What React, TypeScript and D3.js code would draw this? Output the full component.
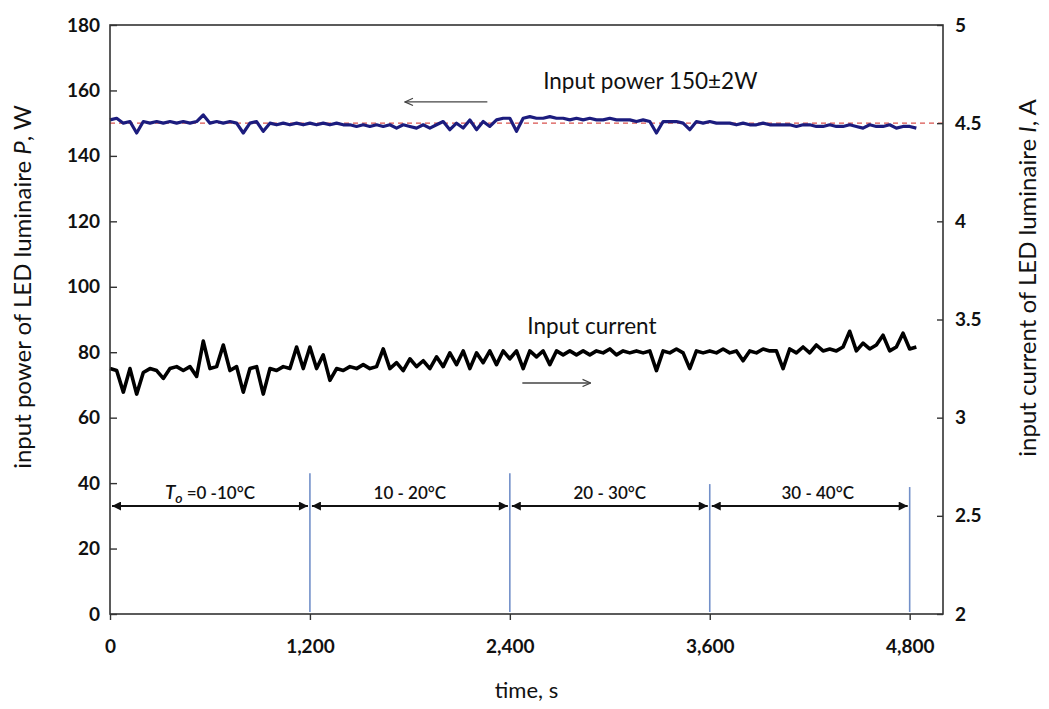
import React, { useEffect, useRef } from "react";
import * as d3 from "d3";

// logger sampled every 40 s, from t = 0
const startTime = 0;
const sampleStep = 40;

// input power of the luminaire, W (left axis)
const powerW = [
  151, 151.5, 150, 150.5, 147, 150.5, 150, 150.5, 150, 150.5,
  150, 150.5, 150, 150.5, 152.5, 150, 150.5, 150, 150.5, 150,
  147, 150, 150.5, 147.5, 150, 149.5, 150, 149.5, 150, 149.5,
  150, 149.5, 150, 149.5, 150, 149.5, 149.5, 149, 149.5, 149,
  149.5, 149, 149.5, 148.5, 149.5, 149, 148.5, 149.5, 148.5, 149.5,
  150.5, 148, 150, 148.5, 151, 148, 150.5, 149, 151, 151.5,
  151.5, 147.5, 151.5, 152, 151.5, 151.5, 152, 151.5, 151.5, 151,
  151.5, 151, 151.5, 151, 151, 151.5, 151, 151, 151, 150.5,
  151, 150.5, 147, 150.5, 150.5, 150.5, 150, 148, 150.5, 150,
  150.5, 150, 150, 150, 149.5, 150, 149.5, 149.5, 150, 149.5,
  149.5, 149.5, 149.5, 149, 149.5, 149.5, 149, 149, 149.5, 149,
  149, 149.5, 149, 148.5, 149.5, 149, 149, 149.5, 148.5, 149,
  149, 148.5,
];

// input current of the luminaire, A (right axis)
const currentA = [
  3.25, 3.24, 3.13, 3.25, 3.12, 3.23, 3.25, 3.24, 3.2, 3.25,
  3.26, 3.24, 3.26, 3.21, 3.39, 3.25, 3.26, 3.37, 3.24, 3.26,
  3.13, 3.25, 3.26, 3.12, 3.25, 3.24, 3.26, 3.25, 3.36, 3.25,
  3.36, 3.25, 3.32, 3.19, 3.25, 3.24, 3.26, 3.25, 3.27, 3.25,
  3.26, 3.35, 3.25, 3.28, 3.24, 3.3, 3.26, 3.29, 3.25, 3.31,
  3.26, 3.33, 3.27, 3.34, 3.25, 3.33, 3.28, 3.34, 3.27, 3.34,
  3.3, 3.34, 3.25, 3.34, 3.31, 3.34, 3.27, 3.34, 3.32, 3.34,
  3.32, 3.34, 3.32, 3.34, 3.33, 3.35, 3.32, 3.34, 3.33, 3.34,
  3.33, 3.34, 3.24, 3.34, 3.33, 3.35, 3.33, 3.25, 3.34, 3.33,
  3.34, 3.33, 3.35, 3.33, 3.34, 3.29, 3.34, 3.33, 3.35, 3.34,
  3.34, 3.25, 3.35, 3.33, 3.36, 3.33, 3.37, 3.34, 3.35, 3.34,
  3.36, 3.44, 3.34, 3.38, 3.35, 3.37, 3.42, 3.34, 3.36, 3.43,
  3.35, 3.36,
];

const nominalPower = 150;
const xTicks = [0, 1200, 2400, 3600, 4800];
const powerTicks = [0, 20, 40, 60, 80, 100, 120, 140, 160, 180];
const currentTicks = [2, 2.5, 3, 3.5, 4, 4.5, 5];

// ambient temperature stages
const stageBounds = [0, 1200, 2400, 3600, 4800];
const stageLabels = ["=0 -10°C", "10 - 20°C", "20 - 30°C", "30 - 40°C"];
const dividerTops = [43, 43, 39.7, 38.8]; // W, top of the blue divider at 1200..4800

const W = 1049;
const H = 709;
const margin = { top: 25, right: 106, bottom: 95, left: 110 };
const font = "Lato, 'Open Sans', sans-serif";

const App = () => {
  const svgRef = useRef<SVGSVGElement>(null);

  useEffect(() => {
    const root = d3.select(svgRef.current);
    root.selectAll("*").remove();

    const width = W - margin.left - margin.right;
    const height = H - margin.top - margin.bottom;

    const times = powerW.map((_, i) => startTime + i * sampleStep);

    const x = d3.scaleLinear().domain([0, 5000]).range([0, width]);
    const yP = d3.scaleLinear().domain([0, 180]).range([height, 0]);
    const yI = d3.scaleLinear().domain([2, 5]).range([height, 0]);

    const defs = root.append("defs");
    const mk = (id: string, path: string) =>
      defs
        .append("marker")
        .attr("id", id)
        .attr("viewBox", "0 0 10 10")
        .attr("refX", 10)
        .attr("refY", 5)
        .attr("markerWidth", 10)
        .attr("markerHeight", 9)
        .attr("markerUnits", "userSpaceOnUse")
        .attr("orient", "auto-start-reverse")
        .append("path")
        .attr("d", path);
    mk("tri", "M0,0 L10,5 L0,10 Z").attr("fill", "#111");
    mk("open", "M1,1 L10,5 L1,9").attr("fill", "none").attr("stroke", "#444").attr("stroke-width", 1.3);

    const g = root.append("g").attr("transform", `translate(${margin.left},${margin.top})`);

    // nominal power reference
    g.append("line")
      .attr("x1", 0)
      .attr("x2", width)
      .attr("y1", yP(nominalPower))
      .attr("y2", yP(nominalPower))
      .attr("stroke", "#d9534f")
      .attr("stroke-width", 1.4)
      .attr("stroke-dasharray", "5,4");

    const powerLine = d3
      .line<number>()
      .x((_, i) => x(times[i]))
      .y((d) => yP(d));
    g.append("path")
      .datum(powerW)
      .attr("d", powerLine)
      .attr("fill", "none")
      .attr("stroke", "#1c1c7e")
      .attr("stroke-width", 3.2)
      .attr("stroke-linejoin", "round");

    const currentLine = d3
      .line<number>()
      .x((_, i) => x(times[i]))
      .y((d) => yI(d));
    g.append("path")
      .datum(currentA)
      .attr("d", currentLine)
      .attr("fill", "none")
      .attr("stroke", "#000")
      .attr("stroke-width", 3.6)
      .attr("stroke-linejoin", "round");

    // stage dividers
    g.selectAll(".divider")
      .data(stageBounds.slice(1))
      .enter()
      .append("line")
      .attr("x1", (d) => x(d))
      .attr("x2", (d) => x(d))
      .attr("y1", (_, i) => yP(dividerTops[i]))
      .attr("y2", height - 2)
      .attr("stroke", "#7390c9")
      .attr("stroke-width", 1.6);

    // stage span arrows
    const spanY = yP(33);
    stageBounds.slice(1).forEach((b, i) => {
      const a = stageBounds[i];
      g.append("line")
        .attr("x1", x(a) + 2)
        .attr("x2", x(b) - 2)
        .attr("y1", spanY)
        .attr("y2", spanY)
        .attr("stroke", "#111")
        .attr("stroke-width", 1.8)
        .attr("marker-start", "url(#tri)")
        .attr("marker-end", "url(#tri)");
      const t = g
        .append("text")
        .attr("x", x((a + b) / 2) + (i === 3 ? 8 : 0))
        .attr("y", yP(35))
        .attr("text-anchor", "middle")
        .attr("font-family", font)
        .attr("font-size", 17)
        .attr("font-weight", 600)
        .attr("fill", "#111");
      if (i === 0) {
        t.append("tspan").attr("font-style", "italic").attr("font-size", 19).text("T");
        t.append("tspan").attr("font-style", "italic").attr("font-size", 14).attr("dy", 4).text("o");
        t.append("tspan").attr("dy", -4).attr("dx", 4).text(stageLabels[i]);
      } else {
        t.text(stageLabels[i]);
      }
    });

    // annotations
    const note = (tx: number, py: number, s: string) =>
      g.append("text")
        .attr("x", x(tx))
        .attr("y", yP(py))
        .attr("font-family", font)
        .attr("font-size", 22.5)
        .attr("fill", "#111")
        .text(s);
    note(2600, 160.5, "Input power 150±2W");
    note(2505, 85.5, "Input current");

    g.append("line")
      .attr("x1", x(2265))
      .attr("x2", x(1770))
      .attr("y1", yP(156.5))
      .attr("y2", yP(156.5))
      .attr("stroke", "#444")
      .attr("stroke-width", 1.4)
      .attr("marker-end", "url(#open)");
    g.append("line")
      .attr("x1", x(2475))
      .attr("x2", x(2885))
      .attr("y1", yP(70.6))
      .attr("y2", yP(70.6))
      .attr("stroke", "#444")
      .attr("stroke-width", 1.4)
      .attr("marker-end", "url(#open)");

    // frame
    g.append("rect")
      .attr("width", width)
      .attr("height", height)
      .attr("fill", "none")
      .attr("stroke", "#333")
      .attr("stroke-width", 1.6);

    const styleAxis = (sel: d3.Selection<SVGGElement, unknown, null, undefined>) => {
      sel.select(".domain").remove();
      sel.selectAll("line").attr("stroke", "#333").attr("stroke-width", 1.4);
      sel.selectAll("text")
        .attr("font-family", font)
        .attr("font-size", 19)
        .attr("font-weight", 700)
        .attr("fill", "#111");
    };

    g.append("g")
      .attr("transform", `translate(0,${height})`)
      .call(d3.axisBottom(x).tickValues(xTicks).tickFormat(d3.format(",")).tickSize(6).tickPadding(20))
      .call(styleAxis);

    g.append("g")
      .call(d3.axisLeft(yP).tickValues(powerTicks).tickSize(-7).tickPadding(10))
      .call(styleAxis);

    g.append("g")
      .attr("transform", `translate(${width},0)`)
      .call(
        d3.axisRight(yI)
          .tickValues(currentTicks)
          .tickFormat((d) => String(d))
          .tickSize(-6)
          .tickPadding(12)
      )
      .call(styleAxis);

    // axis titles
    root.append("text")
      .attr("x", margin.left + x(2500))
      .attr("y", 698)
      .attr("text-anchor", "middle")
      .attr("font-family", font)
      .attr("font-size", 22)
      .attr("fill", "#111")
      .text("time, s");

    const yTitle = (cx: number, cy: number, parts: [string, boolean][]) => {
      const t = root.append("text")
        .attr("transform", `translate(${cx},${cy}) rotate(-90)`)
        .attr("text-anchor", "middle")
        .attr("font-family", font)
        .attr("font-size", 24)
        .attr("fill", "#111");
      parts.forEach(([s, it]) => t.append("tspan").attr("font-style", it ? "italic" : "normal").text(s));
    };
    yTitle(31, 287, [["input power of LED luminaire ", false], ["P", true], [", W", false]]);
    yTitle(1036, 278, [["input current of LED luminaire ", false], ["I", true], [", A", false]]);
  }, []);

  return (
    <svg
      ref={svgRef}
      width={W}
      height={H}
      style={{ position: "absolute", left: 0, top: 0, background: "#fff" }}
    ></svg>
  );
};

export default App;
